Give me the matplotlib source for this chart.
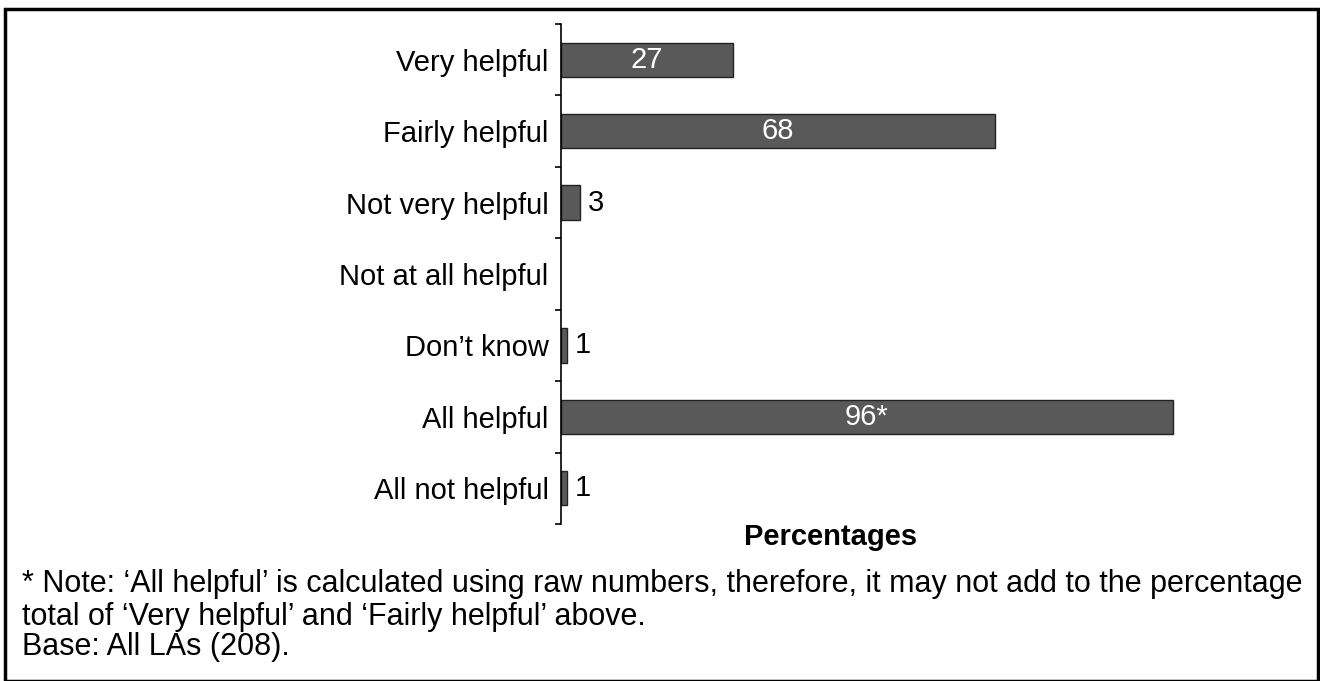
import matplotlib.pyplot as plt
from matplotlib.patches import Rectangle

plt.rcParams['font.family'] = ['Liberation Sans', 'DejaVu Sans']

# Daten
categories = ['Very helpful', 'Fairly helpful', 'Not very helpful', 'Not at all helpful',
              "Don\u2019t know", 'All helpful', 'All not helpful']
values = [27, 68, 3, 0, 1, 96, 1]
value_labels = ['27', '68', '3', '', '1', '96*', '1']
inside = [True, True, False, False, False, True, False]

note_1 = "* Note: \u2018All helpful\u2019 is calculated using raw numbers, therefore, it may not add to the percentage"
note_2 = "total of \u2018Very helpful\u2019 and \u2018Fairly helpful\u2019 above."
base_text = "Base: All LAs (208)."

fs = 21
fs_note = 22

fig = plt.figure(figsize=(13.2, 6.81), dpi=100)
ax = fig.add_axes([561 / 1320, 1 - 524 / 681, 637.5 / 1320, 500 / 681])

y = list(range(len(categories)))
lw = [1.0 if v > 0 else 0 for v in values]
ax.barh(y, values, height=0.48, color='#595959', edgecolor='#222222', linewidth=lw)

for yi, v, lab, ins in zip(y, values, value_labels, inside):
    if not lab:
        continue
    if ins:
        ax.text(v / 2, yi, lab, color='white', ha='center', va='center', fontsize=fs)
    else:
        ax.text(v + 1.2, yi, lab, color='black', ha='left', va='center', fontsize=fs)

ax.set_xlim(0, 100)
ax.set_ylim(len(categories) - 0.5, -0.5)
ax.set_yticks(y)
ax.set_yticklabels(categories, fontsize=fs)
ax.set_yticks([i - 0.5 for i in range(len(categories) + 1)], minor=True)
ax.tick_params(axis='y', which='major', length=0, pad=9)
ax.tick_params(axis='y', which='minor', length=4, width=1.2, direction='out')
ax.set_xticks([])
for s in ['top', 'right', 'bottom']:
    ax.spines[s].set_visible(False)
ax.spines['left'].set_linewidth(1.2)

fig.text(831 / 1320, 1 - 537 / 681, 'Percentages', fontsize=fs, fontweight='bold',
         ha='center', va='center')
fig.text(22 / 1320, 1 - 584 / 681, note_1, fontsize=fs_note, ha='left', va='center')
fig.text(22 / 1320, 1 - 617 / 681, note_2, fontsize=fs_note, ha='left', va='center')
fig.text(22 / 1320, 1 - 647 / 681, base_text, fontsize=fs_note, ha='left', va='center')

# Rahmen
fig.patches.append(Rectangle((5 / 1320, 0.0), 1313 / 1320, 1 - 9 / 681,
                             transform=fig.transFigure, fill=False,
                             edgecolor='black', linewidth=2.5))

fig.savefig('out.png', dpi=100)
